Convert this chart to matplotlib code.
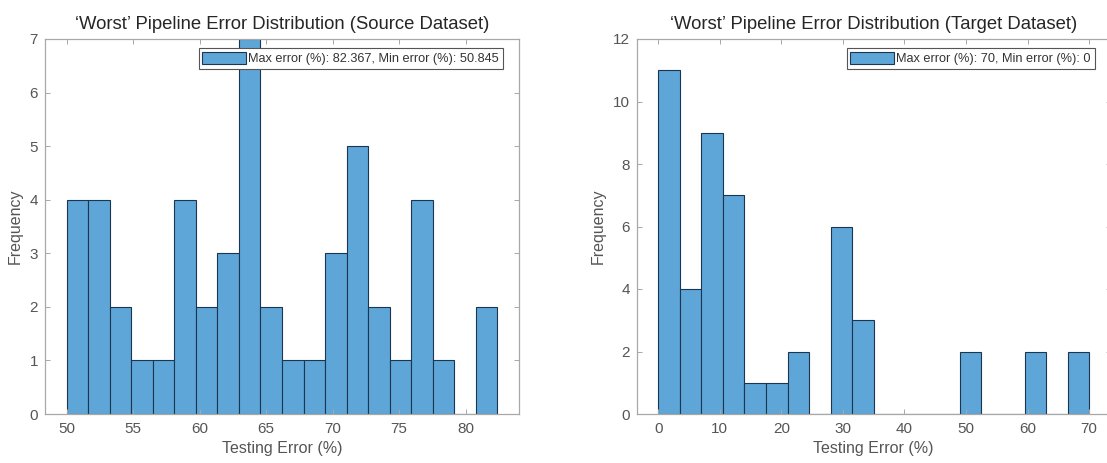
import numpy as np
import matplotlib
matplotlib.use("Agg")
import matplotlib.pyplot as plt
from matplotlib.patches import Patch

# ---- data ----
src_counts = [4, 4, 2, 1, 1, 4, 2, 3, 7, 2, 1, 1, 3, 5, 2, 1, 4, 1, 0, 2]
src_bin_start = 50.0
src_bin_width = 1.62
src_label = "Max error (%): 82.367, Min error (%): 50.845"
src_title = "\u2018Worst\u2019 Pipeline Error Distribution (Source Dataset)"
src_xticks = [50, 55, 60, 65, 70, 75, 80]
src_yticks = [0, 1, 2, 3, 4, 5, 6, 7]

tgt_counts = [11, 4, 9, 7, 1, 1, 2, 0, 6, 3, 0, 0, 0, 0, 2, 0, 0, 2, 0, 2]
tgt_bin_start = 0.0
tgt_bin_width = 3.5
tgt_label = "Max error (%): 70, Min error (%): 0"
tgt_title = "\u2018Worst\u2019 Pipeline Error Distribution (Target Dataset)"
tgt_xticks = [0, 10, 20, 30, 40, 50, 60, 70]
tgt_yticks = [0, 2, 4, 6, 8, 10, 12]

xlabel = "Testing Error (%)"
ylabel = "Frequency"

plt.rcParams['font.family'] = ['Liberation Sans', 'DejaVu Sans']

FACE = '#5fa6d8'
EDGE = '#1a3650'
SPINE = '#a8a8a8'
TICKTXT = '#555555'

fig = plt.figure(figsize=(11.07, 4.63), dpi=100)
W, H = 1107.0, 463.0
ax1 = fig.add_axes([45 / W, 49 / H, 474 / W, 375 / H])
ax2 = fig.add_axes([636.7 / W, 49 / H, 474 / W, 375 / H])


def draw(ax, counts, start, bw, label, title, xticks, yticks):
    counts = np.asarray(counts, dtype=float)
    edges = start + bw * np.arange(len(counts) + 1)
    ax.hist(edges[:-1], bins=edges, weights=counts, color=FACE,
            edgecolor=EDGE, linewidth=0.8, label=label)
    ax.set_xlim(edges[0] - bw, edges[-1] + bw)
    ax.set_ylim(0, yticks[-1])
    ax.set_xticks(xticks)
    ax.set_yticks(yticks)
    ax.tick_params(direction='in', length=3.5, width=0.7, color=SPINE,
                   top=True, right=True, labelsize=11, labelcolor=TICKTXT)
    ax.tick_params(axis='x', pad=6)
    ax.tick_params(axis='y', pad=5)
    for s in ax.spines.values():
        s.set_color(SPINE)
        s.set_linewidth(0.9)
    ax.set_xlabel(xlabel, fontsize=11.5, color=TICKTXT, labelpad=3)
    ax.set_ylabel(ylabel, fontsize=11.5, color=TICKTXT, labelpad=5)
    ax.set_title(title, fontsize=13.3, color='#262626', pad=7)
    handle = Patch(facecolor=FACE, edgecolor=EDGE, linewidth=0.8)
    leg = ax.legend([handle], [label], loc='upper right', fontsize=9.2,
                    frameon=True, fancybox=False, framealpha=1,
                    edgecolor='#555555', handlelength=3.4, handleheight=1.1,
                    handletextpad=0.2, borderpad=0.3, borderaxespad=0.0,
                    bbox_to_anchor=(1 - 16 / 474, 1 - 9 / 375))
    leg.get_frame().set_linewidth(0.8)
    for t in leg.get_texts():
        t.set_color('#333333')


draw(ax1, src_counts, src_bin_start, src_bin_width, src_label, src_title,
     src_xticks, src_yticks)
draw(ax2, tgt_counts, tgt_bin_start, tgt_bin_width, tgt_label, tgt_title,
     tgt_xticks, tgt_yticks)

fig.savefig("out.png", dpi=100)
